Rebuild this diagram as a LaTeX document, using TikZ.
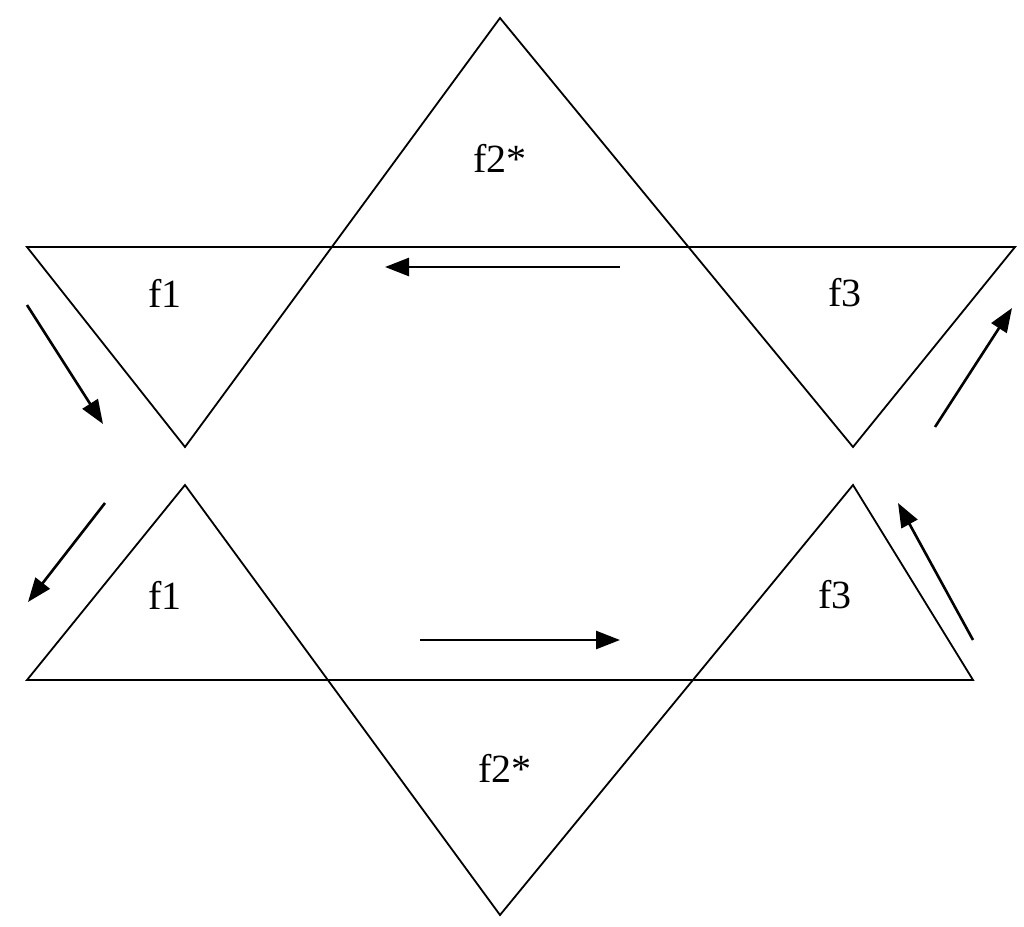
\documentclass[tikz,border=0pt]{standalone}
\usepackage{fontspec}
\setmainfont{Liberation Serif}
\usetikzlibrary{arrows.meta}
\begin{document}
\begin{tikzpicture}[x=1pt,y=-1pt,
  edge/.style={line width=1.8pt},
  flow/.style={line width=2.6pt,-{Triangle[length=24pt,width=18pt]}},
  lbl/.style={font=\fontsize{40}{40}\selectfont}]
\useasboundingbox (0,0) rectangle (1024,926);
% top figure
\coordinate (TA) at (500,18); \coordinate (TL) at (27,247); \coordinate (TR) at (1015,247);
\coordinate (TV1) at (185,447); \coordinate (TV3) at (853,447);
\draw[edge] (TL) -- (TR) -- (TV3) -- (TA) -- (TV1) -- cycle;
% bottom figure
\coordinate (BA) at (500,915); \coordinate (BL) at (27,680); \coordinate (BR) at (973,680);
\coordinate (BV1) at (185,485); \coordinate (BV3) at (853,485);
\draw[edge] (BL) -- (BR) -- (BV3) -- (BA) -- (BV1) -- cycle;
% labels
\node[lbl] (l2t) at (500,158) {f2*};
\node[lbl] (l1t) at (165,293) {f1};
\node[lbl] (l3t) at (845,293) {f3};
\node[lbl] (l1b) at (165,595) {f1};
\node[lbl] (l3b) at (835,595) {f3};
\node[lbl] (l2b) at (505,768) {f2*};
% arrows
\coordinate (a1s) at (620,267); \coordinate (a1e) at (385,267);
\coordinate (a2s) at (420,640); \coordinate (a2e) at (620,640);
\coordinate (a3s) at (27,305); \coordinate (a3e) at (103,424);
\coordinate (a4s) at (105,503); \coordinate (a4e) at (28,602);
\coordinate (a5s) at (935,427); \coordinate (a5e) at (1012,308);
\coordinate (a6s) at (973,640); \coordinate (a6e) at (898,503);
\foreach \i in {1,...,6} \draw[flow] (a\i s) -- (a\i e);
\end{tikzpicture}
\end{document}
